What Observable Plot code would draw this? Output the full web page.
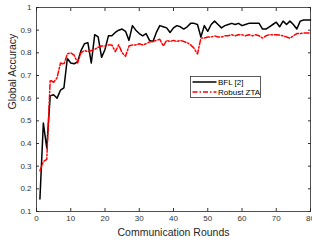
<!DOCTYPE html>
<html><head><meta charset="utf-8">
<script src="https://cdn.jsdelivr.net/npm/d3@7"></script>
<script src="https://cdn.jsdelivr.net/npm/@observablehq/plot@0.6"></script>
<style>
body{margin:0;background:#fff;font-family:"Liberation Sans",Arial,sans-serif;}
#wrap{position:relative;width:312px;height:243px;}
#legend{position:absolute;left:190px;top:76px;}
</style>
</head><body>
<div id="wrap"><div id="chart"></div><div id="legend"></div></div>
<script>
const rounds = d3.range(1, 81);
const bfl = [0.155,0.49,0.38,0.61,0.615,0.60,0.635,0.645,0.775,0.755,
0.752,0.76,0.81,0.84,0.845,0.755,0.88,0.87,0.78,0.815,
0.875,0.875,0.89,0.90,0.905,0.895,0.855,0.92,0.90,0.885,
0.875,0.885,0.855,0.85,0.89,0.92,0.915,0.91,0.89,0.91,
0.92,0.915,0.905,0.915,0.93,0.93,0.925,0.87,0.92,0.895,
0.925,0.94,0.925,0.91,0.92,0.925,0.93,0.925,0.93,0.92,
0.925,0.93,0.93,0.93,0.93,0.905,0.905,0.915,0.925,0.935,
0.915,0.94,0.925,0.94,0.925,0.905,0.94,0.945,0.945,0.945];
const robust = [0.28,0.32,0.33,0.68,0.67,0.69,0.755,0.75,0.795,0.80,
0.79,0.755,0.80,0.81,0.805,0.81,0.815,0.825,0.83,0.83,
0.835,0.835,0.805,0.835,0.80,0.785,0.83,0.835,0.835,0.84,
0.835,0.84,0.848,0.85,0.855,0.86,0.83,0.855,0.85,0.855,
0.85,0.855,0.85,0.845,0.835,0.82,0.795,0.865,0.865,0.87,
0.87,0.875,0.87,0.87,0.875,0.875,0.88,0.875,0.88,0.88,
0.875,0.88,0.875,0.88,0.875,0.865,0.875,0.88,0.88,0.88,
0.878,0.875,0.87,0.865,0.875,0.885,0.885,0.888,0.888,0.888];
const seriesNames = ["BFL [2]", "Robust ZTA"];
const seriesColors = ["#000000", "#ff0000"];
const seriesDash = [null, "5,2,1.5,2"];
const xTicks = [0,10,20,30,40,50,60,70,80];
const yTicks = [0.1,0.2,0.3,0.4,0.5,0.6,0.7,0.8,0.9,1];

const table = rounds.map((r, i) => ({r, bfl: bfl[i], robust: robust[i]}));

const chart = Plot.plot({
  width: 312, height: 243,
  marginLeft: 36, marginRight: 2, marginTop: 7, marginBottom: 32,
  x: {domain: [0, 80]},
  y: {domain: [0.1, 1]},
  style: {fontFamily: "'Liberation Sans', Arial, sans-serif", fontSize: "8px", color: "#333", background: "#fff"},
  marks: [
    Plot.axisX(xTicks, {anchor: "bottom", tickSize: -3, tickPadding: 7, label: null, tickFormat: d => String(d)}),
    Plot.axisX(xTicks, {anchor: "top", tickSize: -3, label: null, tickFormat: () => ""}),
    Plot.axisY(yTicks, {anchor: "left", tickSize: -3, tickPadding: 8, label: null, tickFormat: d => String(d)}),
    Plot.axisY(yTicks, {anchor: "right", tickSize: -3, label: null, tickFormat: () => ""}),
    Plot.frame({stroke: "#262626", strokeWidth: 0.8}),
    Plot.line(table, {x: "r", y: "bfl", stroke: seriesColors[0], strokeWidth: 1.5}),
    Plot.line(table, {x: "r", y: "robust", stroke: seriesColors[1], strokeWidth: 1.5, strokeDasharray: seriesDash[1]}),
    Plot.text(["Communication Rounds"], {frameAnchor: "bottom", dy: 21, fontSize: 10.5, fill: "#262626", lineAnchor: "middle"}),
    Plot.text(["Global Accuracy"], {frameAnchor: "left", dx: -24, rotate: -90, fontSize: 10.5, fill: "#262626"})
  ]
});
document.getElementById("chart").append(chart);

// legend
const lg = d3.select("#legend").append("svg").attr("width", 72).attr("height", 23);
lg.append("rect").attr("x", 0.5).attr("y", 0.5).attr("width", 70).attr("height", 21)
  .attr("fill", "#fff").attr("stroke", "#333").attr("stroke-width", 0.8);
seriesNames.forEach((name, i) => {
  const yy = 6 + i * 10;
  lg.append("line").attr("x1", 2.5).attr("x2", 26.5).attr("y1", yy).attr("y2", yy)
    .attr("stroke", seriesColors[i]).attr("stroke-width", 1.5)
    .attr("stroke-dasharray", seriesDash[i]);
  lg.append("text").attr("x", 28).attr("y", yy).attr("dy", "0.35em")
    .attr("font-size", 8).attr("fill", "#000")
    .attr("font-family", "'Liberation Sans', Arial, sans-serif").text(name);
});
</script>
</body></html>
